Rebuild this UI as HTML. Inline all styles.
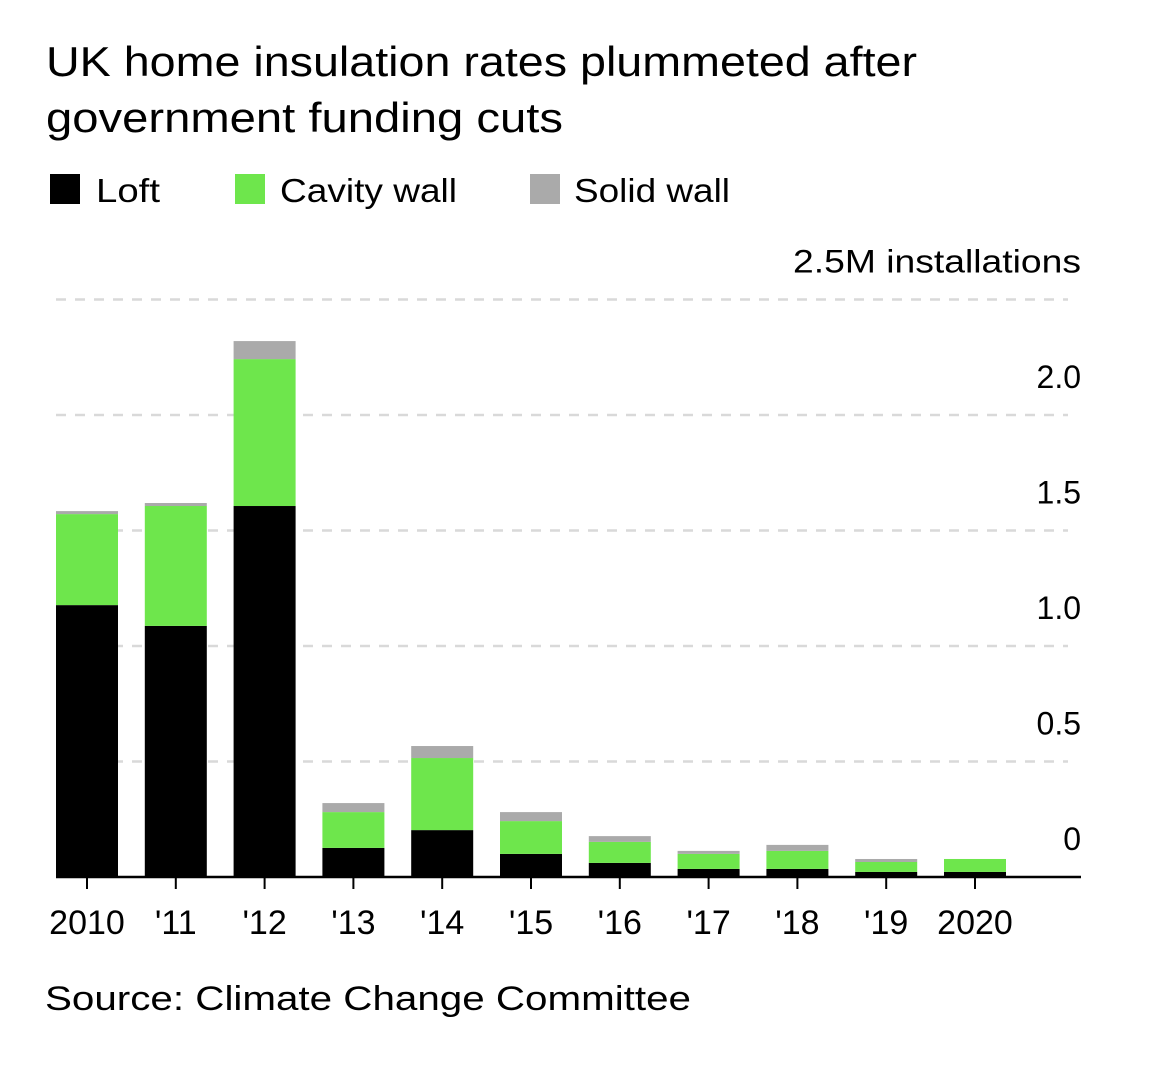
<!DOCTYPE html>
<html><head><meta charset="utf-8"><style>
body{margin:0;background:#fff;width:1170px;height:1084px;overflow:hidden;font-family:"Liberation Sans",sans-serif}
svg text{font-family:"Liberation Sans",sans-serif;fill:#000}
</style></head><body>
<svg id="chart" width="1170" height="1084">
<text x="46" y="76" font-size="42" textLength="871" lengthAdjust="spacingAndGlyphs">UK home insulation rates plummeted after</text>
<text x="46" y="132" font-size="42" textLength="517" lengthAdjust="spacingAndGlyphs">government funding cuts</text>
<g>
<rect x="50" y="174" width="30" height="30" fill="#000"/>
<text x="96" y="202" font-size="33" textLength="64" lengthAdjust="spacingAndGlyphs">Loft</text>
<rect x="235" y="174" width="30" height="30" fill="#6ee64c"/>
<text x="280" y="202" font-size="33" textLength="177" lengthAdjust="spacingAndGlyphs">Cavity wall</text>
<rect x="530" y="174" width="30" height="30" fill="#aaaaaa"/>
<text x="574" y="202" font-size="33" textLength="156" lengthAdjust="spacingAndGlyphs">Solid wall</text>
</g>
<g id="grid"></g><g id="bars"></g><g id="axis"></g>
<text x="45" y="1010" font-size="34" textLength="646" lengthAdjust="spacingAndGlyphs">Source: Climate Change Committee</text>
</svg>
<script>
const categories=["2010","'11","'12","'13","'14","'15","'16","'17","'18","'19","2020"];
const loft=[1.177,1.087,1.606,0.126,0.203,0.100,0.061,0.035,0.035,0.022,0.022];
const cavity=[0.394,0.519,0.636,0.155,0.312,0.142,0.091,0.065,0.078,0.043,0.056];
const solid=[0.013,0.013,0.078,0.039,0.052,0.039,0.025,0.013,0.026,0.013,0.0];
const ticks=[0,0.5,1.0,1.5,2.0,2.5];
const tickLabels=["0","0.5","1.0","1.5","2.0","2.5M installations"];
const NS="http://www.w3.org/2000/svg";
const y0=877,pxPer=231;
const y=v=>y0-v*pxPer;
const x=i=>87+i*88.8;
const bw=62;
function mk(t,a,p){const e=document.createElementNS(NS,t);for(const k in a)e.setAttribute(k,a[k]);p.appendChild(e);return e;}
const grid=document.getElementById('grid'),bars=document.getElementById('bars'),axis=document.getElementById('axis');
ticks.forEach((t,i)=>{
 if(t>0){const l=mk('line',{x1:56,x2:1068,y1:y(t),y2:y(t),stroke:'#d9d9d9','stroke-width':2.5,'stroke-dasharray':'10 9'},grid);
 
 }
 const attrs={x:1081,y:y(t)-27,'font-size':32,'text-anchor':'end'};
 if(i===ticks.length-1){attrs.textLength=288;attrs.lengthAdjust='spacingAndGlyphs';}
 const tx=mk('text',attrs,axis);
 tx.textContent=tickLabels[i];
 
 
});
const series=[[loft,'#000','loft'],[cavity,'#6ee64c','cavity-wall'],[solid,'#aaaaaa','solid-wall']];
categories.forEach((c,i)=>{
 let base=0;
 series.forEach(([arr,col,nm])=>{
  const v=arr[i];if(v<=0)return;
  const r=mk('rect',{x:x(i)-bw/2,y:y(base+v),width:bw,height:v*pxPer,fill:col},bars);
  
  
  base+=v;
 });
 const tk=mk('line',{x1:x(i),x2:x(i),y1:y0,y2:y0+12,stroke:'#000','stroke-width':2},axis);
 
 
 const lb=mk('text',{x:x(i),y:934,'font-size':34,'text-anchor':'middle'},axis);
 lb.textContent=c;
 
 
});
const bl=mk('line',{x1:56,x2:1081,y1:y0,y2:y0,stroke:'#000','stroke-width':2.5},axis);


</script>
</body></html>
